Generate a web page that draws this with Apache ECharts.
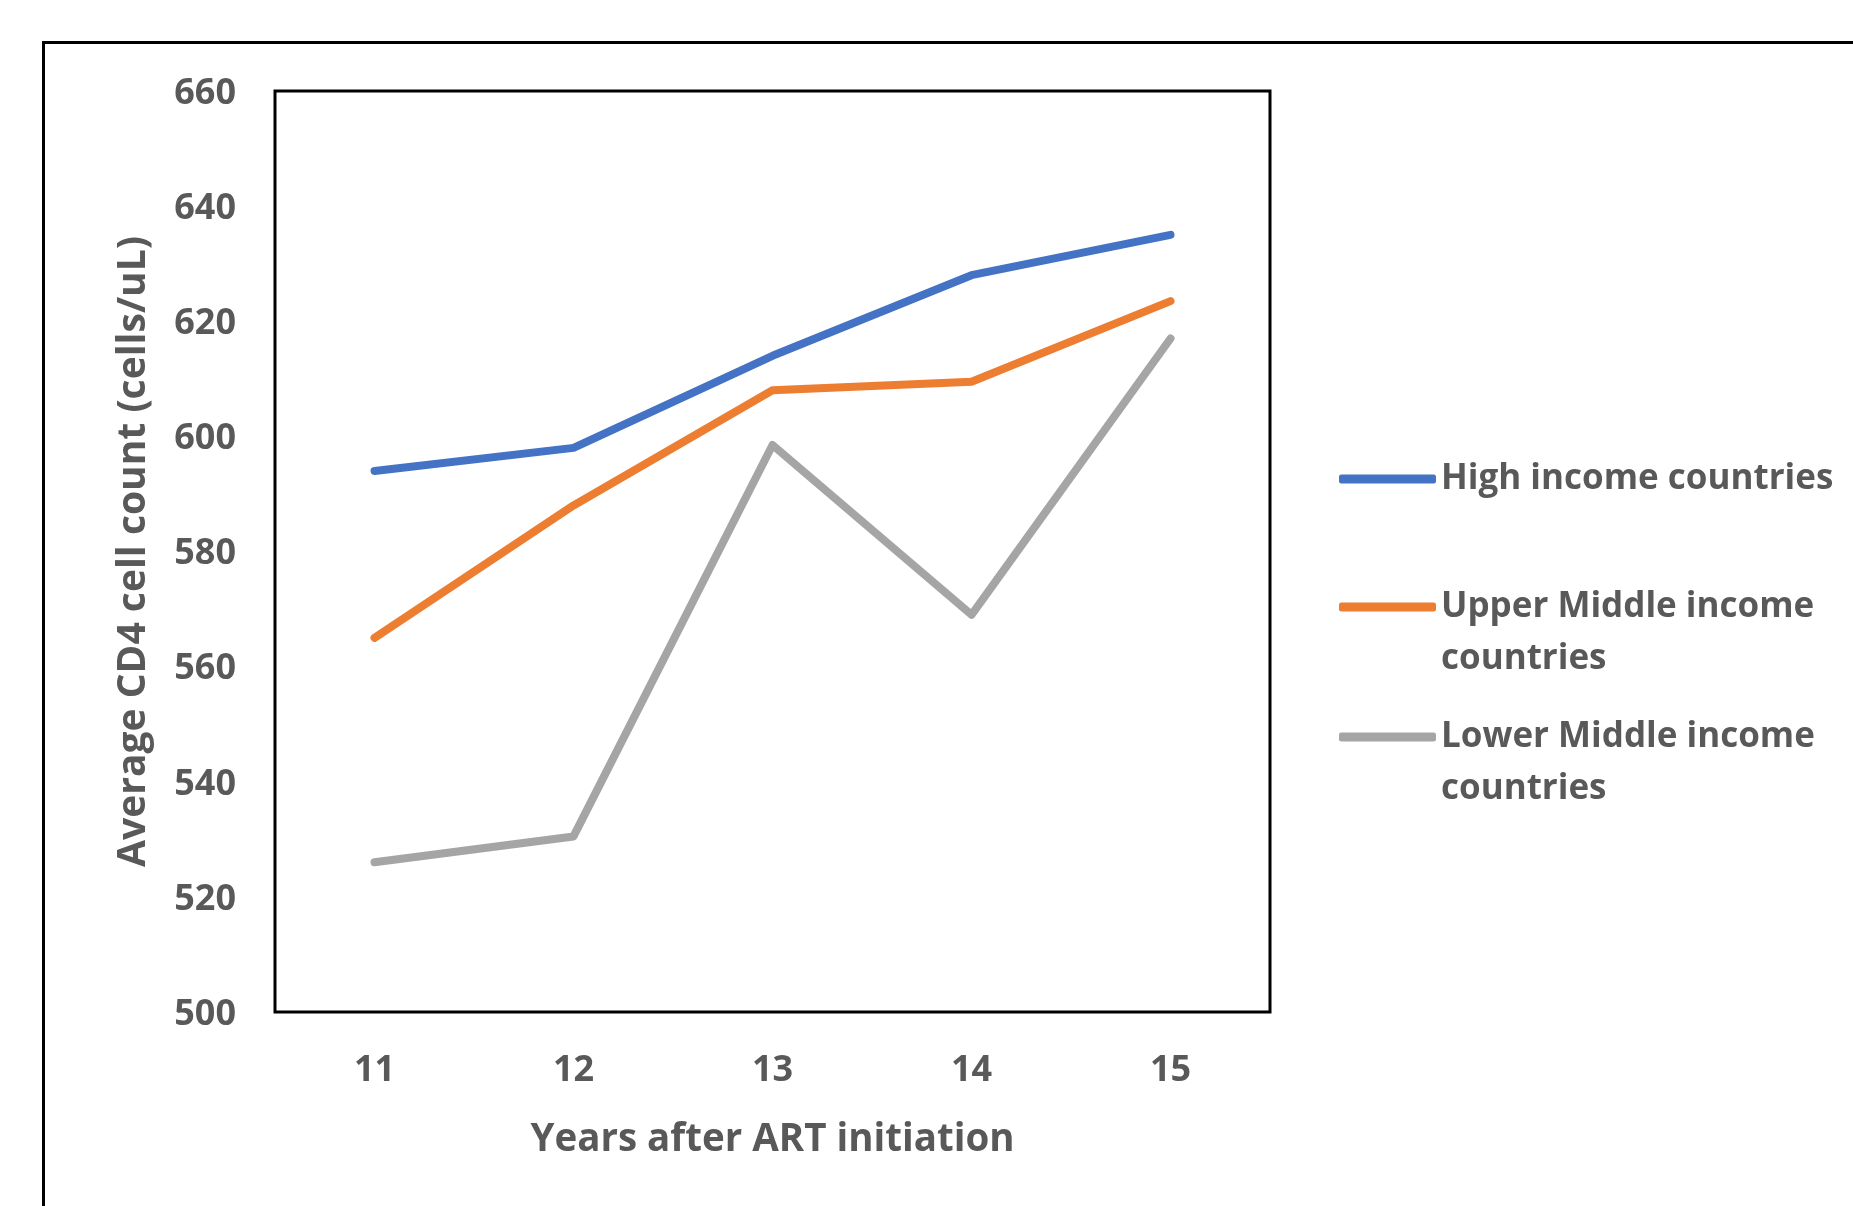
<!DOCTYPE html>
<html>
<head>
<meta charset="utf-8">
<style>
  html, body { margin: 0; padding: 0; background: #fff; }
  #chart { width: 1853px; height: 1206px; }
</style>
<script src="https://cdn.jsdelivr.net/npm/echarts@6/dist/echarts.min.js"></script>
</head>
<body>
<div id="chart"></div>
<script>
// Years after ART initiation
const years = ['11', '12', '13', '14', '15'];

// Average CD4 cell count (cells/uL) by income group
const highIncome = [594, 598, 614, 628, 635];
const upperMiddleIncome = [565, 588, 608, 609.5, 623.5];
const lowerMiddleIncome = [526, 530.5, 598.5, 569, 617];

const seriesNames = [
  'High income countries',
  'Upper Middle income countries',
  'Lower Middle income countries'
];
const seriesColors = ['#4472C4', '#ED7D31', '#A5A5A5'];

const textGray = '#595959';
const font = '"Open Sans", Lato, sans-serif';

const chart = echarts.init(document.getElementById('chart'), null, { renderer: 'canvas' });

// One legend block per series; two-line names get a leading blank line so
// the swatch lines up with the first line of text.
function legendFor(idx, top, twoLine) {
  return {
    data: [seriesNames[idx]],
    left: 1339,
    top: top,
    padding: 0,
    icon: 'roundRect',
    itemWidth: 97,
    itemHeight: 9,
    selectedMode: false,
    formatter: function (name) {
      return twoLine ? '\n' + name.replace(' countries', '\ncountries') : name;
    },
    textStyle: {
      color: textGray,
      fontFamily: font,
      fontWeight: 'bold',
      fontSize: 35,
      lineHeight: 52
    }
  };
}

chart.setOption({
  animation: false,
  backgroundColor: '#fff',
  graphic: [{
    type: 'rect',
    left: 41,
    top: 40,
    shape: { width: 3000, height: 3000 },
    style: { fill: 'none', stroke: '#000', lineWidth: 3 },
    silent: true
  }],
  grid: {
    left: 275,
    right: 583,
    top: 91,
    bottom: 194,
    show: true,
    borderColor: '#000',
    borderWidth: 3,
    backgroundColor: 'transparent'
  },
  legend: [
    legendFor(0, 453, false),
    legendFor(1, 529, true),
    legendFor(2, 659, true)
  ],
  xAxis: {
    type: 'category',
    data: years,
    boundaryGap: true,
    axisLine: { show: false },
    axisTick: { show: false },
    splitLine: { show: false },
    axisLabel: {
      color: textGray,
      fontFamily: font,
      fontWeight: 'bold',
      fontSize: 36,
      margin: 41
    },
    name: 'Years after ART initiation',
    nameLocation: 'middle',
    nameGap: 109,
    nameTextStyle: {
      color: textGray,
      fontFamily: font,
      fontWeight: 'bold',
      fontSize: 38.5
    }
  },
  yAxis: {
    type: 'value',
    min: 500,
    max: 660,
    interval: 20,
    axisLine: { show: false },
    axisTick: { show: false },
    splitLine: { show: false },
    axisLabel: {
      margin: 39,
      formatter: '{v|{value}}',
      rich: {
        v: {
          color: textGray,
          fontFamily: font,
          fontWeight: 'bold',
          fontSize: 36,
          padding: [5, 0, 0, 0]
        }
      }
    },
    name: 'Average CD4 cell count (cells/uL)',
    nameLocation: 'middle',
    nameGap: 122,
    nameTextStyle: {
      color: textGray,
      fontFamily: font,
      fontWeight: 'bold',
      fontSize: 39
    }
  },
  series: [
    { name: seriesNames[0], data: highIncome, color: seriesColors[0] },
    { name: seriesNames[1], data: upperMiddleIncome, color: seriesColors[1] },
    { name: seriesNames[2], data: lowerMiddleIncome, color: seriesColors[2] }
  ].map(s => ({
    type: 'line',
    name: s.name,
    data: s.data,
    symbol: 'none',
    itemStyle: { color: s.color },
    lineStyle: { color: s.color, width: 8, cap: 'round', join: 'round' }
  }))
});
</script>
</body>
</html>
